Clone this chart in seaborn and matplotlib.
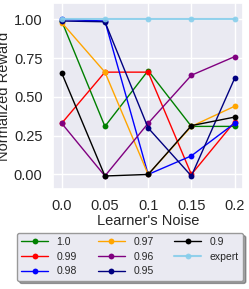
import numpy as np
import pandas as pd
import seaborn as sns
import matplotlib
matplotlib.use("Agg")
import matplotlib.pyplot as plt

noise = [0.0, 0.05, 0.1, 0.15, 0.2]
tick_labels = ["0.0", "0.05", "0.1", "0.15", "0.2"]
series_names = ["1.0", "0.99", "0.98", "0.97", "0.96", "0.95", "0.9", "expert"]
colors = ["green", "red", "blue", "orange", "purple", "navy", "black", "skyblue"]

r_100 = [0.99, 0.31, 0.67, 0.31, 0.31]
r_099 = [0.33, 0.66, 0.66, 0.00, 0.34]
r_098 = [1.00, 0.99, 0.00, 0.12, 0.33]
r_097 = [0.98, 0.66, 0.00, 0.31, 0.44]
r_096 = [0.33, -0.01, 0.33, 0.64, 0.76]
r_095 = [0.99, 0.985, 0.30, -0.01, 0.62]
r_090 = [0.655, -0.01, 0.00, 0.315, 0.37]
r_exp = [1.00, 1.00, 1.00, 1.00, 1.00]
values = [r_100, r_099, r_098, r_097, r_096, r_095, r_090, r_exp]

sns.set_theme(style="darkgrid")
plt.rcParams["font.family"] = ["Liberation Sans", "DejaVu Sans"]

fig = plt.figure(figsize=(2.49, 2.89), dpi=100)
ax = fig.add_axes([0.213, 0.346, 0.764, 0.643])

rows = []
for name, vals in zip(series_names, values):
    for x, v in zip(noise, vals):
        rows.append({"noise": x, "reward": v, "series": name})
df = pd.DataFrame(rows)

lw = {"0.98": 1.0, "0.95": 1.0, "expert": 1.5}
for name, c in zip(series_names, colors):
    sub = df[df["series"] == name]
    sns.lineplot(data=sub, x="noise", y="reward", ax=ax, color=c,
                 marker="o", markersize=4.2, markeredgewidth=0,
                 linewidth=lw.get(name, 1.0), label=name,
                 alpha=0.9 if name == "expert" else 1.0)

ax.set_xticks(noise)
ax.set_xticklabels(tick_labels)
ax.set_yticks([0.0, 0.25, 0.5, 0.75, 1.0])
ax.set_yticklabels(["0.00", "0.25", "0.50", "0.75", "1.00"])
ax.set_ylim(-0.094, 1.105)
ax.tick_params(labelsize=10.5, pad=1.5)
ax.set_xlabel("Learner's Noise", fontsize=10.5, labelpad=0.5)
ax.set_ylabel("Normalized Reward", fontsize=10.5, labelpad=2)

handles, labels = ax.get_legend_handles_labels()
ax.legend_.remove()
leg = fig.legend(handles, labels, ncol=3, fontsize=7.5,
                 loc="upper left", bbox_to_anchor=(0.068, 0.0, 0.908, 0.194),
                 mode="expand", frameon=True, shadow=True,
                 handlelength=2.6, labelspacing=0.45, borderaxespad=0)
leg.get_frame().set_edgecolor("#999999")
leg.get_frame().set_facecolor("#EAEAF2")

fig.savefig("out.png", dpi=100)
